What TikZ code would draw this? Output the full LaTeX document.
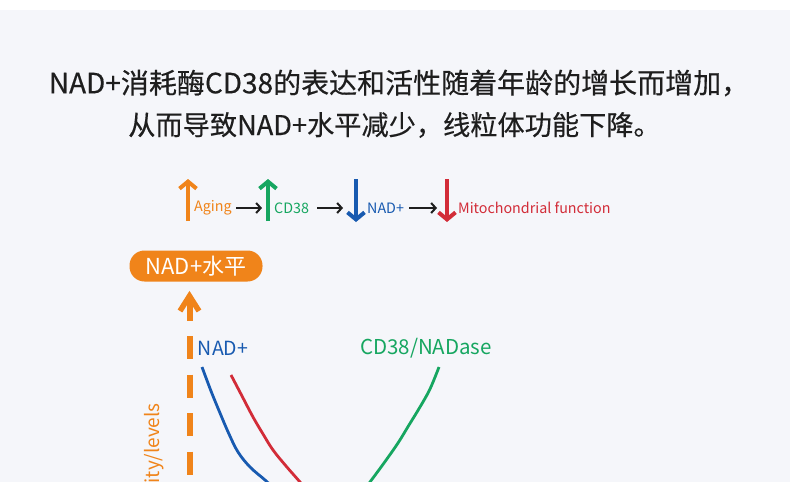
\documentclass[tikz,border=0pt]{standalone}
\usepackage{fontspec}
\setmainfont{Noto Sans CJK SC}
\newfontfamily\titlefont{Noto Sans CJK SC}[FakeBold=0.4]
\usetikzlibrary{arrows.meta}
\definecolor{bgc}{RGB}{245,246,250}
\definecolor{orng}{RGB}{240,132,26}
\definecolor{blu}{RGB}{24,90,176}
\definecolor{rd}{RGB}{210,44,56}
\definecolor{grn}{RGB}{22,166,96}
\definecolor{blk}{RGB}{30,30,30}
\definecolor{ttl}{RGB}{30,30,30}
\tikzset{
  title/.style={text=ttl, inner sep=0pt, anchor=center},
  legtxt/.style={font=\fontsize{14.3}{17}\selectfont, inner sep=0pt, anchor=west},
  bigarrow/.style={line width=4pt, -{Straight Barb[length=7pt,width=17pt,line width=4pt]}},
  smallarrow/.style={draw=blk, line width=2pt, -{Straight Barb[length=4.5pt,width=10pt,line width=2pt]}},
  curve/.style={line width=2.8pt},
  lbl/.style={inner sep=0pt, anchor=center}
}
\begin{document}
\begin{tikzpicture}[x=1pt,y=-1pt]
\useasboundingbox (0,0) rectangle (790,482);
\fill[white] (0,0) rectangle (790,482);
\fill[bgc] (0,10) rectangle (790,482);
\clip (0,0) rectangle (790,482);
% title
\node[title, font=\titlefont\fontsize{28}{33}\selectfont] (t1) at (399,83) {NAD+消耗酶CD38的表达和活性随着年龄的增长而增加，};
\node[title, font=\titlefont\fontsize{27.2}{33}\selectfont] (t2) at (394.5,125) {从而导致NAD+水平减少，线粒体功能下降。};
% legend
\coordinate (oa1) at (188,221); \coordinate (oa2) at (188,179);
\draw[bigarrow, draw=orng] (oa1) -- (oa2);
\node[legtxt, text=orng] (aging) at (194,208) {Aging};
\coordinate (ga1) at (268,221); \coordinate (ga2) at (268,179);
\draw[bigarrow, draw=grn] (ga1) -- (ga2);
\node[legtxt, text=grn] (cd) at (274,208) {CD38};
\coordinate (ba1) at (356,179); \coordinate (ba2) at (356,222);
\draw[bigarrow, draw=blu] (ba1) -- (ba2);
\node[legtxt, text=blu] (nad) at (367,208) {NAD+};
\coordinate (ra1) at (447,179); \coordinate (ra2) at (447,222);
\draw[bigarrow, draw=rd] (ra1) -- (ra2);
\node[legtxt, text=rd] (mito) at (458,208) {Mitochondrial function};
\coordinate (k1a) at (236,208); \coordinate (k1b) at (262,208);
\draw[smallarrow] (k1a) -- (k1b);
\coordinate (k2a) at (317,208); \coordinate (k2b) at (343,208);
\draw[smallarrow] (k2a) -- (k2b);
\coordinate (k3a) at (409,208); \coordinate (k3b) at (437,208);
\draw[smallarrow] (k3a) -- (k3b);
% pill
\node[fill=orng, text=white, rounded corners=15pt, minimum width=133pt, minimum height=31pt, inner sep=0pt, font=\fontsize{22}{26}\selectfont] (pill) at (196,266) {NAD+水平};
% dashed axis
\draw[orng, line width=5.5pt, line join=miter] (180,311) -- (189.5,296) -- (199,311);
\draw[orng, line width=6pt] (189.5,300) -- (189.5,321);
\draw[orng, line width=6pt, dash pattern=on 23pt off 15.5pt] (189.5,336) -- (189.5,500);
\node[rotate=90, anchor=south east, inner sep=0pt, text=orng, font=\fontsize{19}{22}\selectfont] (axis) at (164,403) {ity/levels};
% labels
\node[lbl, text=blu, font=\fontsize{19.5}{22}\selectfont] (nadl) at (223,348) {NAD+};
\node[lbl, text=grn, font=\fontsize{20.5}{24}\selectfont] (cdl) at (426,348) {CD38/NADase};
% curves
\draw[curve, blu] plot[smooth, tension=0.6] coordinates {(202,367) (211,391) (220,413) (229,434) (238,452) (250,467) (265,480) (278,492)};
\draw[curve, rd] plot[smooth, tension=0.6] coordinates {(231,375) (242,396) (253,417) (263,434) (273,450) (286,466) (300,482) (310,494)};
\draw[curve, grn] plot[smooth, tension=0.6] coordinates {(439,367) (430,389) (420,407) (409,425) (398,443) (384,463) (370,482) (362,493)};
\end{tikzpicture}
\end{document}
